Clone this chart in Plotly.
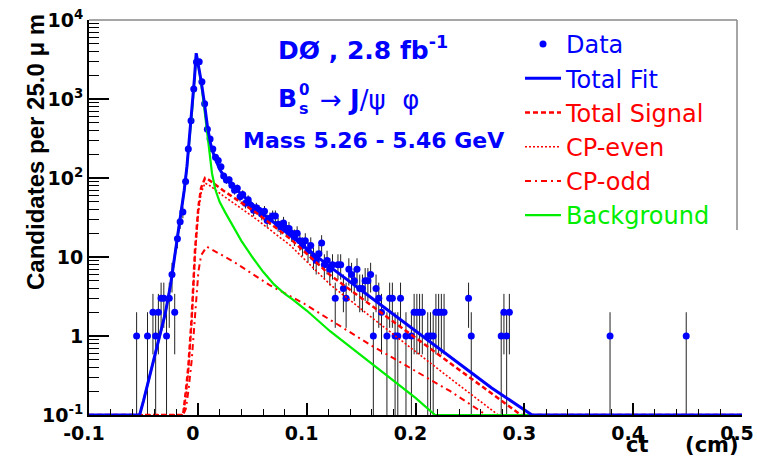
import numpy as np
import plotly.graph_objects as go

# ---------------- data ----------------
data_x = [-0.05625, -0.04625, -0.04125, -0.03875, -0.03625, -0.03375, -0.03125, -0.02875,
          -0.02625, -0.02375, -0.02125, -0.01875, -0.01625, -0.01375, -0.01125, -0.00875,
          -0.00625, -0.00375, -0.00125, 0.00125, 0.00375, 0.00625, 0.00875, 0.01125,
          0.01375, 0.01625, 0.01875, 0.02125, 0.02375, 0.02625, 0.02875, 0.03125,
          0.03375, 0.03625, 0.03875, 0.04125, 0.04375, 0.04625, 0.04875, 0.05125,
          0.05375, 0.05625, 0.05875, 0.06125, 0.06375, 0.06625, 0.06875, 0.07125,
          0.07375, 0.07625, 0.07875, 0.08125, 0.08375, 0.08625, 0.08875, 0.09125,
          0.09375, 0.09625, 0.09875, 0.10125, 0.10375, 0.10625, 0.10875, 0.11125,
          0.11375, 0.11625, 0.11875, 0.12125, 0.12375, 0.12625, 0.12875, 0.13125,
          0.13375, 0.13625, 0.13875, 0.14125, 0.14375, 0.14625, 0.14875, 0.15125,
          0.15375, 0.15625, 0.15875, 0.16125, 0.16375, 0.16625, 0.16875, 0.17375,
          0.17625, 0.17875, 0.18125, 0.18375, 0.18625, 0.19125, 0.19625, 0.19875,
          0.20125, 0.20375, 0.20625, 0.21125, 0.21375, 0.21625, 0.21875, 0.22125,
          0.22375, 0.22625, 0.24875, 0.25125, 0.27875, 0.28125, 0.28375, 0.28625,
          0.37875, 0.44875]
data_n = [1, 1, 2, 1, 2, 3, 3, 1,
          3, 6, 2, 17, 28, 37, 90, 233,
          532, 1340, 2940, 2960, 1655, 873, 413, 312,
          233, 183, 166, 139, 106, 94, 95, 81,
          70, 74, 58, 62, 48, 53, 45, 39,
          42, 39, 35, 38, 29, 31, 33, 33,
          26, 24, 27, 23, 23, 20, 18, 20,
          16, 14, 16, 12, 14, 10, 9, 11,
          15, 8, 9, 7, 8, 3, 8, 8,
          4, 3, 7, 6, 5, 7, 4, 4,
          5, 5, 6, 1, 4, 3, 2, 1,
          3, 3, 1, 1, 3, 1, 1, 2,
          2, 2, 2, 1, 1, 1, 2, 2,
          2, 2, 3, 1, 1, 2, 1, 2,
          1, 1]

fit_x = [-0.1, -0.0535, -0.05, -0.045, -0.04, -0.035, -0.03, -0.025, -0.02, -0.0175, -0.015,
         -0.0125, -0.01, -0.0075, -0.005, -0.003, -0.0015, 0.0005, 0.003, 0.006, 0.009, 0.012,
         0.015, 0.02, 0.025, 0.03, 0.04, 0.06, 0.09, 0.1215, 0.16, 0.2, 0.232, 0.27, 0.307, 0.5]
fit_y = [0.1, 0.1, 0.15, 0.28, 0.55, 1.0, 1.9, 4.5, 13, 22, 40,
         70, 140, 330, 800, 1900, 3800, 2700, 1700, 900, 430, 260,
         190, 130, 100, 85, 62, 35, 16.5, 7.5, 3.0, 1.17, 0.55, 0.22, 0.1, 0.1]

bkg_x = [-0.1, -0.0535, -0.05, -0.045, -0.04, -0.035, -0.03, -0.025, -0.02, -0.0175, -0.015,
         -0.0125, -0.01, -0.0075, -0.005, -0.003, -0.0015, 0.0005, 0.003, 0.006, 0.009, 0.0105,
         0.013, 0.016, 0.02, 0.025, 0.03, 0.04, 0.05, 0.06, 0.07, 0.08, 0.087, 0.1, 0.1215,
         0.14, 0.16, 0.18, 0.2, 0.218, 0.5]
bkg_y = [0.1, 0.1, 0.15, 0.28, 0.55, 1.0, 1.9, 4.5, 13, 22, 40,
         70, 138, 320, 780, 1850, 3700, 2650, 1600, 750, 330, 200,
         115, 72, 50, 37, 28, 16, 10, 6.5, 4.5, 3.4, 2.9, 2.1, 1.15,
         0.73, 0.45, 0.27, 0.165, 0.1, 0.1]

sig_x = [-0.1, -0.0135, -0.011, -0.0087, -0.0056, -0.0026, 0.0005, 0.003, 0.0066, 0.01,
         0.023, 0.054, 0.085, 0.1215, 0.16, 0.2, 0.232, 0.297, 0.5]
sig_y = [0.1, 0.1, 0.2, 0.41, 1.75, 12, 43, 75, 100, 95,
         70, 36, 17, 5.9, 2.4, 0.95, 0.45, 0.1, 0.1]

even_x = [-0.1, -0.0135, -0.011, -0.0087, -0.0056, -0.0026, 0.0005, 0.003, 0.0066, 0.01,
          0.023, 0.054, 0.085, 0.1215, 0.16, 0.2, 0.232, 0.276, 0.5]
even_y = [0.1, 0.1, 0.17, 0.35, 1.5, 10, 37, 65, 86, 82,
          60, 30, 14, 4.5, 1.7, 0.63, 0.29, 0.1, 0.1]

odd_x = [-0.1, -0.0135, -0.011, -0.0087, -0.0056, -0.0026, 0.0005, 0.003, 0.0082, 0.033,
         0.066, 0.097, 0.1215, 0.16, 0.2, 0.232, 0.265, 0.5]
odd_y = [0.1, 0.1, 0.12, 0.2, 0.5, 2.0, 6.5, 10.5, 13.5, 8.7,
         4.4, 2.6, 1.6, 0.75, 0.36, 0.2, 0.1, 0.1]

x_tickvals = [-0.1, 0.0, 0.1, 0.2, 0.3, 0.4, 0.5]
x_ticktext = ["-0.1", "0", "0.1", "0.2", "0.3", "0.4", "0.5"]
y_tickvals = [0.1, 1, 10, 100, 1000, 10000]
y_ticktext = ["10<sup>-1</sup>", "1", "10", "10<sup>2</sup>", "10<sup>3</sup>", "10<sup>4</sup>"]

BLUE = "#0000ff"
RED = "#ff0000"
GREEN = "#00ee00"
FONT = "DejaVu Sans"

# ---------------- figure ----------------
W, H = 757, 459
ML, MR, MT, MB = 89, 15, 20, 44
pw = W - ML - MR
ph = H - MT - MB


def px_x(p):
    return (p - ML) / pw


def px_y(p):
    return 1 - (p - MT) / ph


n = np.array(data_n, dtype=float)
err_up = np.sqrt(n)
err_dn = np.minimum(np.sqrt(n), n - 1e-3)

fig = go.Figure()

fig.add_trace(go.Scatter(
    x=data_x, y=data_n, mode="markers", name=f'<span style="color:{BLUE}">Data</span>',
    marker=dict(color=BLUE, size=7, line=dict(width=0)),
    error_y=dict(type="data", symmetric=False, array=err_up, arrayminus=err_dn,
                 color="#222222", thickness=1, width=0),
    legendrank=1,
))
fig.add_trace(go.Scatter(
    x=odd_x, y=odd_y, mode="lines", name=f'<span style="color:{RED}">CP-odd</span>',
    line=dict(color=RED, width=2, dash="6px,4px,2px,4px"), legendrank=5,
))
fig.add_trace(go.Scatter(
    x=even_x, y=even_y, mode="lines", name=f'<span style="color:{RED}">CP-even</span>',
    line=dict(color=RED, width=1.6, dash="2px,2px"), legendrank=4,
))
fig.add_trace(go.Scatter(
    x=sig_x, y=sig_y, mode="lines", name=f'<span style="color:{RED}">Total Signal</span>',
    line=dict(color=RED, width=2.5, dash="5px,3px"), legendrank=3,
))
fig.add_trace(go.Scatter(
    x=bkg_x, y=bkg_y, mode="lines", name=f'<span style="color:{GREEN}">Background</span>',
    line=dict(color=GREEN, width=2.2), legendrank=6,
))
fig.add_trace(go.Scatter(
    x=fit_x, y=fit_y, mode="lines", name=f'<span style="color:{BLUE}">Total Fit</span>',
    line=dict(color=BLUE, width=3), legendrank=2,
))

fig.update_layout(
    width=W, height=H,
    margin=dict(l=ML, r=MR, t=MT, b=MB, pad=0, autoexpand=False),
    paper_bgcolor="white", plot_bgcolor="white",
    font=dict(family=FONT, color="black"),
    showlegend=True,
    legend=dict(
        xref="container", yref="container",
        x=520 / W, y=1 - 22 / H, xanchor="left", yanchor="top",
        bgcolor="rgba(0,0,0,0)", borderwidth=0,
        font=dict(family=FONT, size=24),
        itemwidth=36, tracegroupgap=0,
    ),
    xaxis=dict(
        range=[-0.1, 0.5], showgrid=False, zeroline=False,
        showline=True, linecolor="black", linewidth=2,
        ticks="inside", ticklen=12, tickwidth=1.5, tickcolor="black",
        tickvals=x_tickvals, ticktext=x_ticktext, ticklabelshift=-5,
        tickfont=dict(family=FONT, size=19, weight="bold"),
        minor=dict(ticks="inside", ticklen=6, tickwidth=1.2, tickcolor="black", dtick=0.02, tick0=0),
    ),
    yaxis=dict(
        type="log", range=[-1, 4], showgrid=False, zeroline=False,
        showline=True, linecolor="black", linewidth=2,
        ticks="inside", ticklen=20, tickwidth=1.5, tickcolor="black",
        tickvals=y_tickvals, ticktext=y_ticktext,
        tickfont=dict(family=FONT, size=19, weight="bold"),
        minor=dict(ticks="inside", ticklen=10, tickwidth=1.2, tickcolor="black",
                   tickvals=[m * 10.0 ** e for e in range(-1, 4) for m in range(2, 10)]),
    ),
)

# frame (top and partial right edge, grey)
fig.add_shape(type="line", xref="paper", yref="paper", x0=0, x1=px_x(737), y0=1, y1=1,
              line=dict(color="#888888", width=1.5))
fig.add_shape(type="line", xref="paper", yref="paper", x0=px_x(737), x1=px_x(737),
              y0=1, y1=px_y(230), line=dict(color="#888888", width=1.5))

ann = []
ann.append(dict(text="Candidates per 25.0 μ m", x=px_x(35), y=px_y(152), xref="paper", yref="paper",
                showarrow=False, textangle=-90, xanchor="center", yanchor="middle",
                font=dict(family="Liberation Sans", size=24, weight="bold", color="black")))
ann.append(dict(text="ct\u00a0\u00a0\u00a0\u00a0\u00a0(cm)", x=px_x(741), y=px_y(445), xref="paper", yref="paper",
                showarrow=False, xanchor="right", yanchor="middle",
                font=dict(family=FONT, size=21, weight="bold", color="black")))
ann.append(dict(text="DØ , 2.8 fb<sup>-1</sup>", x=px_x(276), y=px_y(49), xref="paper", yref="paper",
                showarrow=False, xanchor="left", yanchor="middle",
                font=dict(family=FONT, size=25, weight="bold", color=BLUE)))
ann.append(dict(text="B", x=px_x(276), y=px_y(99), xref="paper", yref="paper",
                showarrow=False, xanchor="left", yanchor="middle",
                font=dict(family=FONT, size=25, weight="bold", color=BLUE)))
ann.append(dict(text="0", x=px_x(297), y=px_y(90), xref="paper", yref="paper",
                showarrow=False, xanchor="left", yanchor="middle",
                font=dict(family=FONT, size=15, weight="bold", color=BLUE)))
ann.append(dict(text="s", x=px_x(297), y=px_y(109), xref="paper", yref="paper",
                showarrow=False, xanchor="left", yanchor="middle",
                font=dict(family=FONT, size=16, weight="bold", color=BLUE)))
ann.append(dict(text="→ <b>J</b>/ψ  φ", x=px_x(318), y=px_y(100), xref="paper", yref="paper",
                showarrow=False, xanchor="left", yanchor="middle",
                font=dict(family=FONT, size=26, color=BLUE)))
ann.append(dict(text="Mass 5.26 - 5.46 GeV", x=px_x(241), y=px_y(140), xref="paper", yref="paper",
                showarrow=False, xanchor="left", yanchor="middle",
                font=dict(family=FONT, size=22, weight="bold", color=BLUE)))
fig.update_layout(annotations=ann)

fig.write_html("out.html")
